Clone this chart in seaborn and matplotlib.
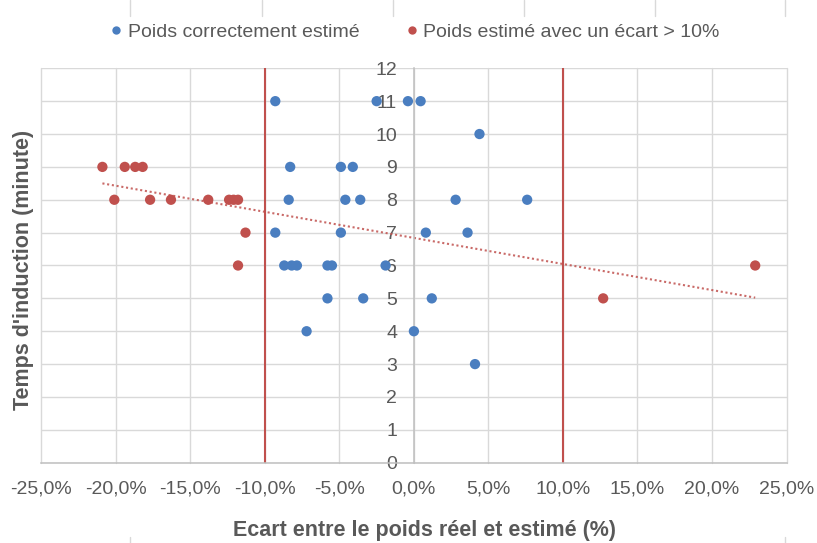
import matplotlib
matplotlib.use("Agg")
import matplotlib.pyplot as plt
from matplotlib.lines import Line2D
from matplotlib.ticker import FuncFormatter, MultipleLocator
import numpy as np
import pandas as pd
import seaborn as sns

# Ecart entre poids réel et estimé (%) et temps d'induction (minutes)
blue_x = [-9.3, -2.5, -0.4, 0.45, -8.3, -4.9, -4.1, 4.4, -8.4, -4.6, -3.6, 2.8, 7.6,
          -9.3, -4.9, 0.8, 3.6, -8.7, -8.2, -7.85, -5.8, -5.5, -1.9, -5.8, -3.4, 1.2,
          -7.2, 0.0, 4.1]
blue_y = [11, 11, 11, 11, 9, 9, 9, 10, 8, 8, 8, 8, 8,
          7, 7, 7, 7, 6, 6, 6, 6, 6, 6, 5, 5, 5,
          4, 4, 3]

red_x = [-20.9, -19.4, -18.7, -18.2, -20.1, -17.7, -16.3, -13.8, -12.4, -12.1, -11.8,
         -11.3, -11.8, 12.7, 22.9]
red_y = [9, 9, 9, 9, 8, 8, 8, 8, 8, 8, 8,
         7, 6, 5, 6]

series_labels = ["Poids correctement estimé", "Poids estimé avec un écart > 10%"]
thresholds = [-10, 10]
x_title = "Ecart entre le poids réel et estimé (%)"
y_title = "Temps d'induction (minute)"

BLUE = "#4A7EC0"
RED = "#C0504D"
TEXT = "#595959"
GRID = "#D9D9D9"
AXIS = "#BFBFBF"

df = pd.DataFrame({
    "ecart": blue_x + red_x,
    "temps": blue_y + red_y,
    "groupe": [series_labels[0]] * len(blue_x) + [series_labels[1]] * len(red_x),
})

sns.set_theme(style="white")
plt.rcParams["font.family"] = ["Liberation Sans", "DejaVu Sans"]

fig = plt.figure(figsize=(8.17, 5.43), dpi=100)
ax = fig.add_axes([0.05055, 0.14788, 0.91212, 0.72634])

ax.set_xlim(-25, 25)
ax.set_ylim(0, 12)
ax.xaxis.set_major_locator(MultipleLocator(5))
ax.yaxis.set_major_locator(MultipleLocator(1))
ax.xaxis.set_major_formatter(FuncFormatter(lambda v, p: f"{v:.1f}%".replace(".", ",")))

ax.grid(True, color=GRID, linewidth=1.0)
ax.set_axisbelow(True)
for gl in ax.get_xgridlines() + ax.get_ygridlines():
    gl.set_clip_on(False)

for side in ["top", "right"]:
    ax.spines[side].set_visible(False)
ax.spines["left"].set_position(("data", 0))
ax.spines["left"].set_color(AXIS)
ax.spines["left"].set_linewidth(1.1)
ax.spines["bottom"].set_color(AXIS)
ax.spines["bottom"].set_linewidth(1.1)

ax.tick_params(axis="both", length=0, labelsize=14, labelcolor=TEXT)
ax.tick_params(axis="y", pad=12)
ax.tick_params(axis="x", pad=12.5)

# seuils de +/- 10 %
for t in thresholds:
    ax.axvline(t, color=RED, linewidth=1.5, zorder=2)

# droite de tendance de la série en écart
sns.regplot(x=red_x, y=red_y, ax=ax, scatter=False, ci=None, truncate=True,
            line_kws=dict(color=RED, linewidth=1.5, linestyle=(0, (1, 1.3)), alpha=0.85,
                          zorder=2.5))

sns.scatterplot(data=df, x="ecart", y="temps", hue="groupe",
                palette={series_labels[0]: BLUE, series_labels[1]: RED},
                s=55, linewidth=0, legend=False, ax=ax, zorder=3)

ax.set_xlabel(x_title, fontsize=15.5, fontweight="bold", color=TEXT, labelpad=16.5)
ax.xaxis.label.set_x(0.5148)
ax.set_ylabel(y_title, fontsize=15.5, fontweight="bold", color=TEXT)
ax.yaxis.set_label_coords(-0.0098, 0.489)

handles = [Line2D([], [], linestyle="none", marker="o", markersize=6,
                  markerfacecolor=c, markeredgewidth=0) for c in (BLUE, RED)]
fig.legend(handles, series_labels, loc="center", bbox_to_anchor=(0.508, 0.941), ncol=2,
           frameon=False, fontsize=14, labelcolor=TEXT, handlelength=0.6,
           handletextpad=0.3, columnspacing=2.4, borderpad=0)

# traits de séparation de page
for xp in [130, 262, 393, 524, 655, 785]:
    fig.add_artist(Line2D([xp / 817] * 2, [1, 1 - 16 / 543], transform=fig.transFigure,
                          color=GRID, linewidth=1))
for xp in [130, 785]:
    fig.add_artist(Line2D([xp / 817] * 2, [0, 6 / 543], transform=fig.transFigure,
                          color=GRID, linewidth=1))

fig.savefig("out.png", dpi=100)
